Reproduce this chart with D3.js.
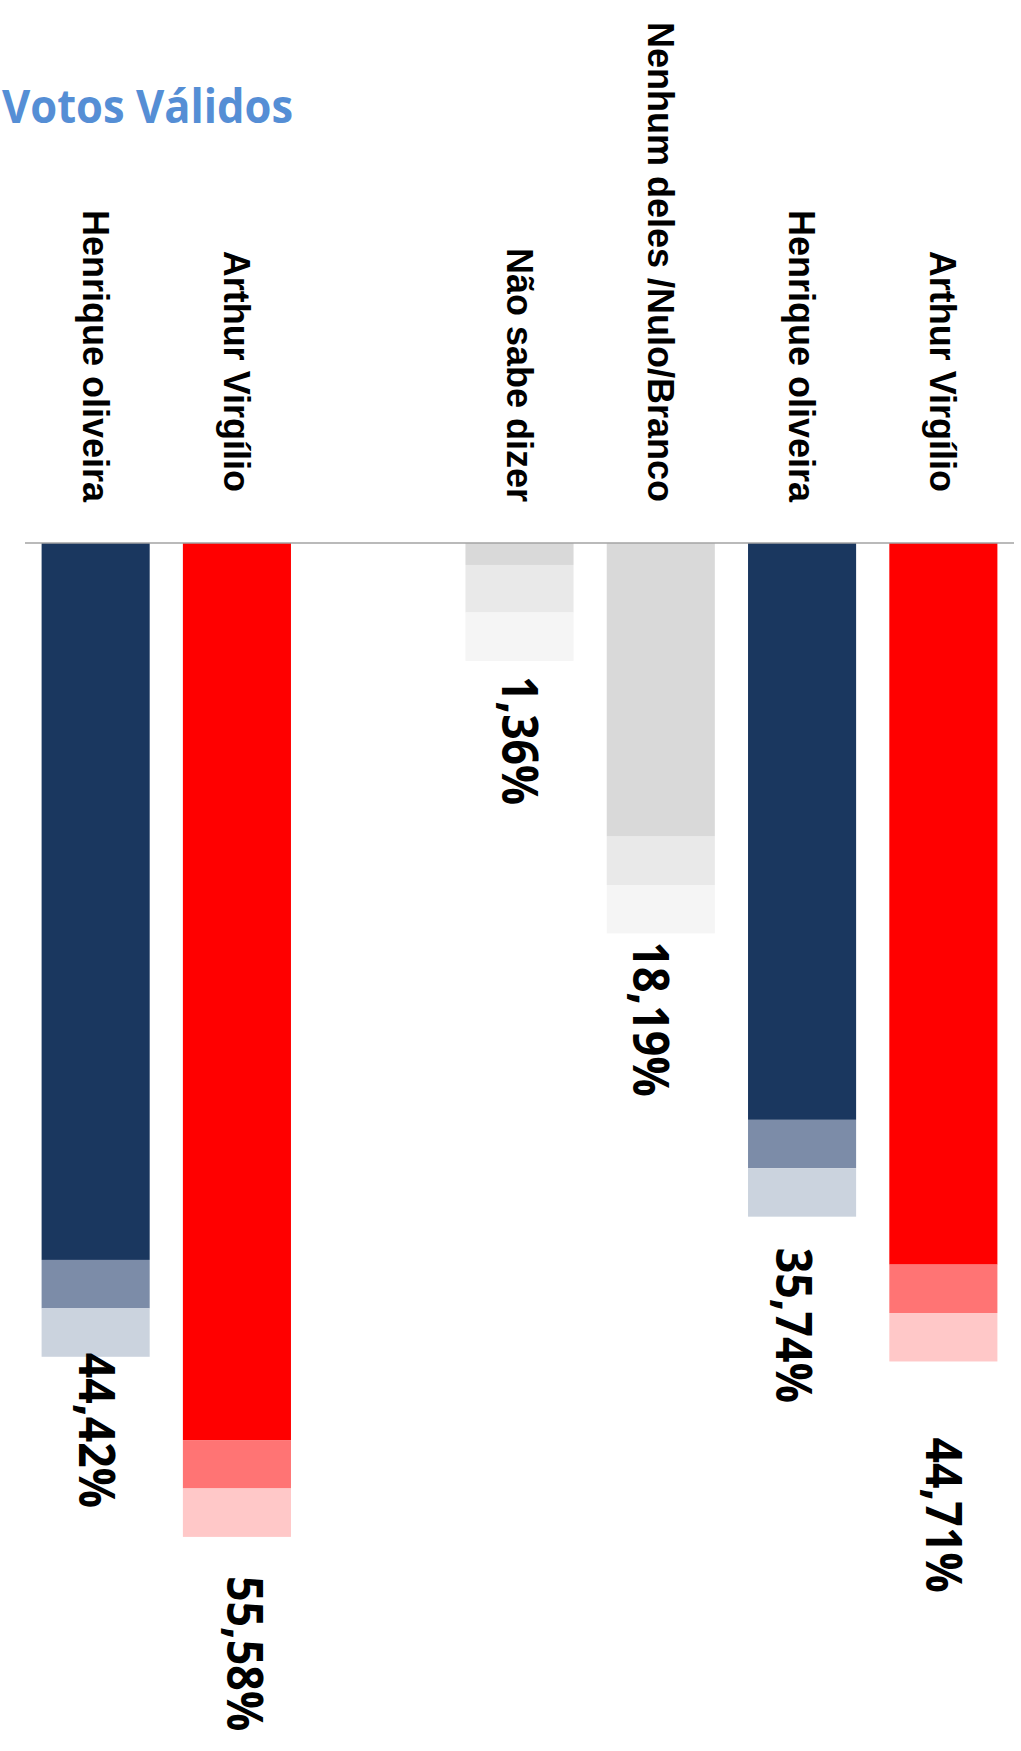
<!DOCTYPE html>
<html>
<head>
<meta charset="utf-8">
<script src="https://cdn.jsdelivr.net/npm/d3@7"></script>
<style>
  html, body { margin: 0; padding: 0; background: #ffffff; }
  svg { display: block; }
</style>
</head>
<body>
<div id="chart"></div>
<script>
// ---- data ----
const title = "Votos Válidos";
const categories = ["Henrique oliveira", "Arthur Virgílio ", "", "Não sabe dizer", "Nenhum deles /Nulo/Branco", "Henrique oliveira", "Arthur Virgílio "];
const values = [44.42, 55.58, null, 1.36, 18.19, 35.74, 44.71];
const band1 = [3.0, 3.0, null, 2.95, 3.0, 3.0, 3.0];
const band2 = [3.0, 3.0, null, 3.0, 3.0, 3.0, 3.0];
const groups = ["navy", "red", null, "gray", "gray", "navy", "red"];

// ---- layout ----
const W = 1021, H = 1751;
const baseY = 543;
const pxPerUnit = 16.14;
const palettes = {
  navy: ["#1a375f", "#7c8ca8", "#cbd3de"],
  red:  ["#ff0000", "#ff7474", "#ffc8c8"],
  gray: ["#d9d9d9", "#e9e9e9", "#f5f5f5"]
};
const labelGapY = [-4, 39, 15, 8, 31, 76];
const labelShiftX = [1, 8, 0, -10, -9, 0];

const svg = d3.select("#chart").append("svg").attr("width", W).attr("height", H);

const x = d3.scaleBand()
  .domain(d3.range(categories.length))
  .range([25, 1014])
  .paddingInner(0.235)
  .paddingOuter(0.1175);

const y = d3.scaleLinear().domain([0, 70]).range([baseY, baseY + 70 * pxPerUnit]);

const rows = categories.map((c, i) => ({
  i, cat: c, v: values[i], b1: band1[i], b2: band2[i], g: groups[i]
})).filter(d => d.v !== null);

// title
svg.append("text")
  .attr("x", 2).attr("y", 123)
  .attr("font-family", "'Open Sans', sans-serif")
  .attr("font-weight", 700)
  .attr("font-size", 46)
  .attr("fill", "#558ed5")
  .attr("textLength", 291)
  .attr("lengthAdjust", "spacingAndGlyphs")
  .text(title);

// bars: main + two lighter segments
const bars = svg.append("g");
rows.forEach(d => {
  const segs = [
    [0, d.v],
    [d.v, d.v + d.b1],
    [d.v + d.b1, d.v + d.b1 + d.b2]
  ];
  segs.forEach((s, k) => {
    bars.append("rect")
      .attr("x", x(d.i))
      .attr("width", x.bandwidth())
      .attr("y", y(s[0]))
      .attr("height", y(s[1]) - y(s[0]))
      .attr("fill", palettes[d.g][k]);
  });
});

// baseline axis line
svg.append("line")
  .attr("x1", 25).attr("x2", 1014)
  .attr("y1", baseY).attr("y2", baseY)
  .attr("stroke", "#a3a3a3").attr("stroke-width", 1.6);

// category labels (rotated, reading top to bottom)
svg.append("g").selectAll("text").data(rows).join("text")
  .attr("transform", d => `translate(${x(d.i) + x.bandwidth() / 2},502) rotate(90)`)
  .attr("text-anchor", "end")
  .attr("dy", 13)
  .style("white-space", "pre")
  .attr("font-family", "'Liberation Sans', Arial, sans-serif")
  .attr("font-weight", 700)
  .attr("font-size", 36)
  .attr("fill", "#000")
  .text(d => d.cat);

// value labels
const fmt = v => v.toFixed(2).replace(".", ",") + "%";
const labelWidth = s => {
  const digits = s.replace(/[^0-9]/g, "").length;
  return 51.5 * (digits * 0.507 + 0.258 + 0.729);
};
svg.append("g").selectAll("text").data(rows).join("text")
  .attr("transform", (d, j) => `translate(${x(d.i) + x.bandwidth() / 2 + labelShiftX[j]},${y(d.v + d.b1 + d.b2) + labelGapY[j]}) rotate(90)`)
  .attr("text-anchor", "start")
  .attr("dy", 17.5)
  .attr("font-family", "'Open Sans', sans-serif")
  .attr("font-weight", 700)
  .attr("font-size", 50)
  .attr("fill", "#000")
  .attr("textLength", d => labelWidth(fmt(d.v)))
  .attr("lengthAdjust", "spacingAndGlyphs")
  .text(d => fmt(d.v));
</script>
</body>
</html>
